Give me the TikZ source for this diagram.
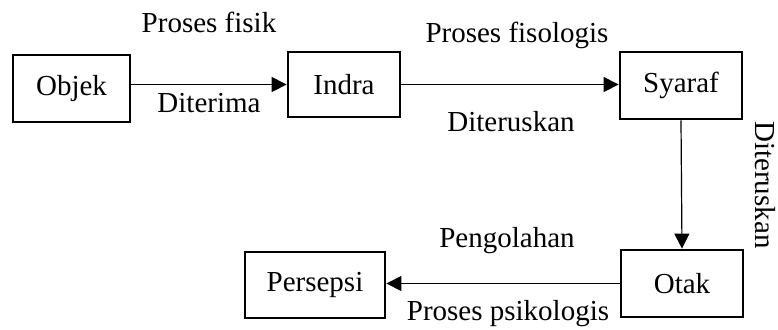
\documentclass[tikz,border=0pt]{standalone}
\usepackage{fontspec}
\setmainfont{Liberation Serif}
\usetikzlibrary{arrows.meta}

\begin{document}
\begin{tikzpicture}[x=0.5pt, y=-0.5pt]
\tikzset{kotak/.style={draw, line width=1.4pt, inner sep=0pt, font=\fontsize{14.5}{17}\selectfont},
         teks/.style={inner sep=0pt, anchor=base, font=\fontsize{14.5}{17}\selectfont},
         panah/.style={line width=0.6pt, -{Triangle[length=7.5pt, width=7.5pt]}}}
\useasboundingbox (0, 0) rectangle (778, 329);
\node[kotak, minimum width=58.5pt, minimum height=33.5pt] (Objek) at (71.5, 88.5) {Objek};
\node[kotak, minimum width=56pt, minimum height=32.5pt] (Indra) at (344, 84.5) {Indra};
\node[kotak, minimum width=61pt, minimum height=33.5pt] (Syaraf) at (681, 85.5) {Syaraf};
\node[kotak, minimum width=61pt, minimum height=33.5pt] (Otak) at (682, 283.5) {Otak};
\node[kotak, minimum width=70pt, minimum height=33pt] (Persepsi) at (315, 285) {Persepsi};
\node[teks] (LFisik) at (209, 32) {Proses fisik};
\node[teks] (LTerima) at (209, 112) {Diterima};
\node[teks] (LFisiologis) at (517, 42) {Proses fisologis};
\node[teks] (LTerus) at (511, 131) {Diteruskan};
\node[teks, rotate=-90] (LTerusV) at (755, 185) {Diteruskan};
\node[teks] (LOlah) at (507, 247) {Pengolahan};
\node[teks] (LPsiko) at (508, 320) {Proses psikologis};
\draw[panah] (Objek.east |- Indra.west) -- (Indra.west);
\draw[panah] (Indra.east) -- (Indra.east -| Syaraf.west);
\draw[panah] (Syaraf.south) -- (Otak.north);
\draw[panah] (Otak.west) -- (Otak.west -| Persepsi.east);
\end{tikzpicture}
\end{document}
